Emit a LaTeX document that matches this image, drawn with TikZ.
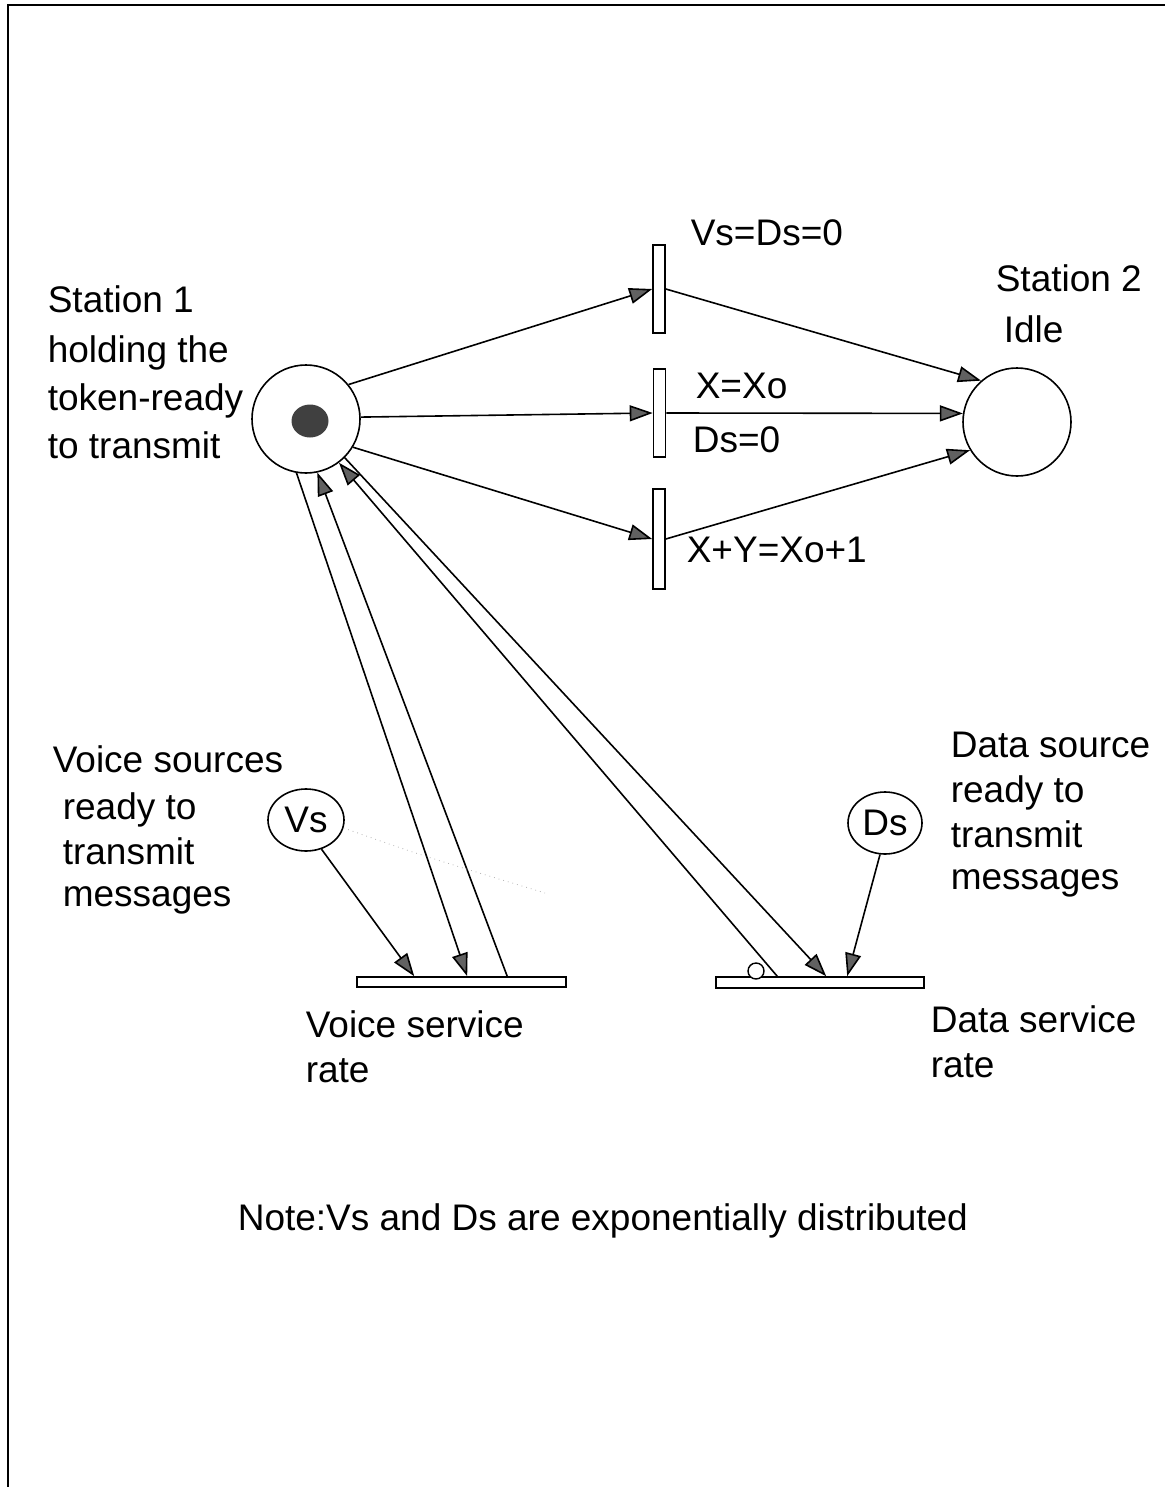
\documentclass[tikz,border=0pt]{standalone}
\usepackage{fontspec}
\setmainfont{Liberation Sans}
\usetikzlibrary{arrows.meta,shapes.geometric,calc}
\begin{document}
\begin{tikzpicture}[x=0.5pt,y=-0.5pt,
  line width=0.8pt,
  place/.style={draw,circle,minimum size=54pt,inner sep=0pt},
  src/.style={draw,ellipse,minimum width=38pt,minimum height=31pt,inner sep=0pt,font=\fontsize{18.5}{22}\selectfont},
  trans/.style={draw,rectangle,minimum width=6pt,inner sep=0pt},
  bar/.style={draw,rectangle,minimum width=104.5pt,minimum height=5pt,inner sep=0pt},
  arc/.style={-{Triangle[length=11.5pt,width=8pt,fill=black!62]}},
  lbl/.style={anchor=base west,inner sep=0pt,font=\fontsize{18.5}{22}\selectfont}]
\useasboundingbox (0,0) rectangle (1165,1487);
% page frame
\draw[line width=0.9pt] (8,1487) -- (8,5) -- (1165,5);
% places
\node[place] (S1) at (306,419) {};
\node[draw=none,fill=black!75,ellipse,minimum width=18.5pt,minimum height=16.5pt,inner sep=0pt] (tok) at (310,421) {};
\node[place] (S2) at (1017,422) {};
% transitions
\node[trans,minimum height=44pt] (T1) at (659,289) {};
\node[trans,minimum height=44pt] (T2) at (659.5,413) {};
\node[trans,minimum height=50pt] (T3) at (659,539) {};
% sources
\node[src] (Vs) at (306,820) {Vs};
\node[src,minimum width=37pt] (Ds) at (885,823) {Ds};
% service bars
\node[bar] (VB) at (461.5,982) {};
\node[bar,minimum width=104pt,minimum height=5.5pt] (DB) at (820,982.5) {};
\node[draw,circle,minimum size=8pt,inner sep=0pt,fill=white,line width=0.7pt] (dot) at (756,971) {};
% arcs station 1 -> transitions -> station 2
\draw[arc] (S1.39) -- (T1.west);
\draw[arc] (S1.2) -- (T2.west);
\draw[arc] (S1.-31) -- (T3.west);
\draw[arc] (T1.east) -- (S2.131);
\draw[arc] (T2.east) -- (S2.171);
\draw[arc] (T3.east) -- (S2.211);
% arcs with service bars
\draw[arc] (Vs.-62) -- ([xshift=29pt]VB.north west);
\draw[arc] (S1.-100) -- ([xshift=55.5pt]VB.north west);
\draw[arc] ([xshift=75.5pt]VB.north west) -- (S1.-78);
\draw[arc] ([xshift=31pt]DB.north west) -- (S1.-53);
\draw[arc] (S1.-45) -- ([xshift=55.5pt]DB.north west);
\draw[arc] (Ds.-99) -- ([xshift=66pt]DB.north west);
% faint trace
\draw[black!30,line width=0.4pt,dotted] (Vs.-12) .. controls (420,855) .. (545,893);
% labels
\node[lbl] (l1) at (47,312) {Station 1};
\node[lbl] (l2) at (47,362) {holding the};
\node[lbl] (l3) at (47,410) {token-ready};
\node[lbl] (l4) at (47,458) {to transmit};
\node[lbl] (t1) at (690,245) {Vs=Ds=0};
\node[lbl] (s2a) at (995,292) {Station 2};
\node[lbl] (s2b) at (1003,342) {Idle};
\node[lbl] (t2a) at (695,398) {X=Xo};
\node[lbl] (t2b) at (692,452) {Ds=0};
\node[lbl] (t3) at (686,562) {X+Y=Xo+1};
\node[lbl] (v1) at (52,772) {Voice sources};
\node[lbl] (v2) at (62,819) {ready to};
\node[lbl] (v3) at (62,864) {transmit};
\node[lbl] (v4) at (62,906) {messages};
\node[lbl] (d1) at (950,757) {Data source};
\node[lbl] (d2) at (950,802) {ready to};
\node[lbl] (d3) at (950,847) {transmit};
\node[lbl] (d4) at (950,889) {messages};
\node[lbl] (vr1) at (305,1037) {Voice service};
\node[lbl] (vr2) at (305,1082) {rate};
\node[lbl] (dr1) at (930,1032) {Data service};
\node[lbl] (dr2) at (930,1077) {rate};
\node[lbl] (note) at (237,1230) {Note:Vs and Ds are exponentially distributed};
\end{tikzpicture}
\end{document}
